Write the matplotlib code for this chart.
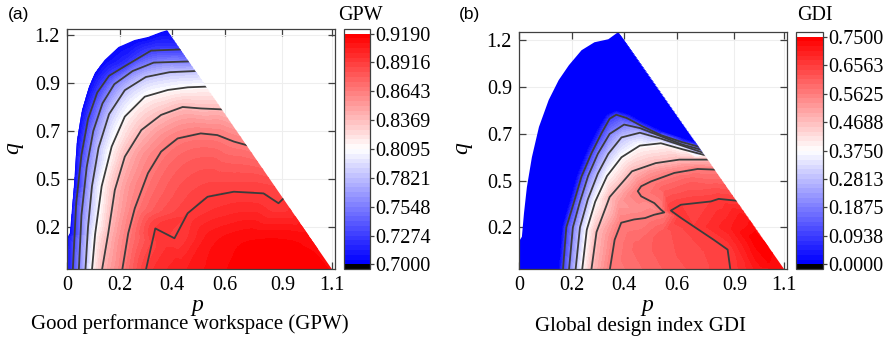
import matplotlib
matplotlib.use("Agg")
import matplotlib.pyplot as plt
import matplotlib.tri as mtri
import numpy as np
from matplotlib.patches import Polygon
from matplotlib.colors import Normalize
from matplotlib.cm import ScalarMappable

plt.rcParams['font.family'] = 'Liberation Serif'

# ---------------- shared axis ticks ----------------
x_tick_pos = [0.0, 0.2, 0.4, 0.6, 0.82, 1.01]
x_tick_labels = ['0', '0.2', '0.4', '0.6', '0.9', '1.1']
y_tick_pos = [0.2, 0.4, 0.6, 0.8, 1.0]
y_tick_labels = ['0.2', '0.5', '0.7', '0.9', '1.2']

# ---------------- (a) Good performance workspace ----------------
gpw_ticks = [0.7000, 0.7274, 0.7548, 0.7821, 0.8095, 0.8369, 0.8643, 0.8916, 0.9190]
gpw_tick_labels = ['0.7000', '0.7274', '0.7548', '0.7821', '0.8095',
                   '0.8369', '0.8643', '0.8916', '0.9190']

# left edge of the workspace and the two ends of the straight edge
edge_a_p = [-0.01, 0.0, 0.011, 0.026, 0.038, 0.057, 0.083, 0.106, 0.143, 0.196, 0.257, 0.309, 0.358]
edge_a_q = [0.02, 0.15, 0.175, 0.367, 0.5625, 0.6875, 0.783, 0.842, 0.896, 0.95, 0.979, 0.992, 1.0125]
apex_a = (0.381, 1.02)
corner_a = (1.011, 0.02)
edge_a_val = 0.703

# contour lines (p, q) for each GPW level
a1_p = [0.022, 0.035, 0.055, 0.08, 0.115, 0.16, 0.22, 0.32, 0.435]
a1_q = [0.02, 0.3, 0.5, 0.65, 0.76, 0.83, 0.87, 0.935, 0.94]
a2_p = [0.045, 0.055, 0.075, 0.10, 0.135, 0.18, 0.25, 0.33, 0.466]
a2_q = [0.02, 0.25, 0.45, 0.6, 0.715, 0.795, 0.85, 0.885, 0.89]
a3_p = [0.07, 0.08, 0.095, 0.12, 0.16, 0.22, 0.30, 0.39, 0.491]
a3_q = [0.02, 0.2, 0.37, 0.53, 0.67, 0.77, 0.825, 0.845, 0.85]
a4_p = [0.095, 0.107, 0.132, 0.17, 0.22, 0.296, 0.384, 0.46, 0.532]
a4_q = [0.02, 0.17, 0.37, 0.535, 0.66, 0.743, 0.771, 0.782, 0.785]
a5_p = [0.133, 0.157, 0.182, 0.22, 0.283, 0.358, 0.44, 0.51, 0.592]
a5_q = [0.02, 0.174, 0.354, 0.493, 0.604, 0.667, 0.70, 0.694, 0.69]
a6_p = [0.21, 0.233, 0.258, 0.308, 0.358, 0.421, 0.509, 0.572, 0.635, 0.687]
a6_q = [0.02, 0.174, 0.278, 0.424, 0.514, 0.569, 0.59, 0.583, 0.556, 0.54]
a7_p = [0.30, 0.336, 0.409, 0.459, 0.535, 0.635, 0.748, 0.805, 0.825]
a7_q = [0.02, 0.194, 0.153, 0.257, 0.326, 0.347, 0.34, 0.299, 0.32]

# a few readings inside the high region
a_in_p = [0.45, 0.65, 0.85, 0.55, 0.70, 0.85, 0.92, 0.60, 0.72, 0.38]
a_in_q = [0.02, 0.02, 0.02, 0.15, 0.15, 0.15, 0.15, 0.28, 0.30, 0.10]
a_in_v = [0.905, 0.916, 0.917, 0.908, 0.914, 0.914, 0.912, 0.897, 0.896, 0.897]

# ---------------- (b) Global design index ----------------
gdi_ticks = [0.0, 0.0938, 0.1875, 0.2813, 0.3750, 0.4688, 0.5625, 0.6563, 0.7500]
gdi_tick_labels = ['0.0000', '0.0938', '0.1875', '0.2813', '0.3750',
                   '0.4688', '0.5625', '0.6563', '0.7500']

edge_b_p = [-0.01, 0.0, 0.011, 0.019, 0.030, 0.049, 0.076, 0.113, 0.151, 0.19, 0.238, 0.287, 0.34]
edge_b_q = [0.015, 0.14, 0.16, 0.261, 0.372, 0.50, 0.63, 0.745, 0.83, 0.894, 0.958, 0.992, 1.005]
apex_b = (0.378, 1.036)
corner_b = (1.013, 0.015)
edge_b_val = 0.005

b1_p = [0.167, 0.18, 0.207, 0.238, 0.276, 0.314, 0.345, 0.37, 0.41, 0.465, 0.54, 0.62, 0.685]
b1_q = [0.015, 0.2, 0.3, 0.418, 0.518, 0.603, 0.665, 0.682, 0.668, 0.635, 0.595, 0.565, 0.545]
b2_p = [0.19, 0.205, 0.232, 0.263, 0.30, 0.345, 0.40, 0.46, 0.54, 0.62, 0.692]
b2_q = [0.015, 0.2, 0.31, 0.42, 0.515, 0.60, 0.64, 0.625, 0.59, 0.555, 0.533]
b3_p = [0.215, 0.232, 0.262, 0.30, 0.34, 0.39, 0.46, 0.54, 0.62, 0.70]
b3_q = [0.015, 0.2, 0.32, 0.43, 0.515, 0.585, 0.605, 0.58, 0.55, 0.52]
b4_p = [0.24, 0.258, 0.29, 0.335, 0.39, 0.46, 0.54, 0.62, 0.708]
b4_q = [0.015, 0.19, 0.31, 0.42, 0.50, 0.55, 0.56, 0.535, 0.509]
b5_p = [0.275, 0.295, 0.345, 0.43, 0.52, 0.61, 0.668, 0.72]
b5_q = [0.015, 0.18, 0.33, 0.44, 0.475, 0.49, 0.49, 0.49]
b6_p = [0.345, 0.364, 0.389, 0.438, 0.48, 0.514, 0.553, 0.54, 0.515, 0.465, 0.452,
        0.465, 0.503, 0.591, 0.68, 0.75]
b6_q = [0.015, 0.147, 0.22, 0.234, 0.24, 0.254, 0.264, 0.276, 0.304, 0.333, 0.355,
        0.376, 0.397, 0.433, 0.45, 0.447]
b7_p = [0.83, 0.76, 0.73, 0.616, 0.578, 0.616, 0.665, 0.741, 0.794, 0.805]
b7_q = [0.314, 0.322, 0.311, 0.297, 0.272, 0.241, 0.204, 0.147, 0.105, 0.015]

# edge of the flat blue zone, just outside the first contour
b_cliff_p = [0.152, 0.165, 0.192, 0.222, 0.26, 0.298, 0.332, 0.37, 0.415, 0.47, 0.545, 0.625, 0.676]
b_cliff_q = [0.015, 0.2, 0.305, 0.425, 0.53, 0.615, 0.68, 0.698, 0.684, 0.65, 0.61, 0.58, 0.562]
b_cliff_v = 0.01

# other readings (blue zone, straight edge, lobes)
b_in_p = [0.08, 0.10, 0.20, 0.30, 0.06, 0.12, 0.25, 0.45, 0.463, 0.557, 0.638,
          0.42, 0.45, 0.38, 0.55, 0.65, 0.72, 0.65, 0.75, 0.50, 0.62,
          0.45, 0.55, 0.60, 0.70, 0.50, 0.70, 0.62,
          0.90, 0.85, 0.95, 0.80, 0.90, 0.895, 0.964, 0.79, 0.52, 0.49]
b_in_q = [0.30, 0.60, 0.80, 0.92, 0.10, 0.45, 0.70, 0.80, 0.90, 0.75, 0.62,
          0.285, 0.28, 0.30, 0.37, 0.40, 0.37, 0.33, 0.36, 0.44, 0.465,
          0.12, 0.18, 0.08, 0.10, 0.015, 0.015, 0.20,
          0.15, 0.25, 0.05, 0.20, 0.015, 0.21, 0.10, 0.38, 0.275, 0.30]
b_in_v = [0.005, 0.005, 0.005, 0.005, 0.005, 0.005, 0.005, 0.005, 0.005, 0.005, 0.005,
          0.53, 0.535, 0.52, 0.60, 0.605, 0.62, 0.64, 0.63, 0.52, 0.52,
          0.60, 0.615, 0.625, 0.64, 0.60, 0.635, 0.64,
          0.745, 0.71, 0.735, 0.70, 0.705, 0.725, 0.735, 0.61, 0.54, 0.535]


def collect(lines, levels, extra_p, extra_q, extra_v):
    # put every reading into one set of scattered samples
    P, Q, Z = [], [], []
    for (lp, lq), lev in zip(lines, levels):
        P += lp
        Q += lq
        Z += [lev] * len(lp)
    P += extra_p
    Q += extra_q
    Z += extra_v
    return np.array(P), np.array(Q), np.array(Z)


def draw_panel(ax, cax, lines, ticks, tick_labels, P, Q, Z, clip_xy, ylim, smooth):
    vmin, vmax = ticks[0], ticks[-1]
    cmap = plt.get_cmap('bwr').resampled(48).with_extremes(under='black', over='white')
    norm = Normalize(vmin, vmax)

    tri = mtri.Triangulation(P, Q)
    if smooth:
        interp = mtri.CubicTriInterpolator(tri, Z, kind='geom')
        tri, Z = mtri.UniformTriRefiner(tri).refine_field(Z, triinterpolator=interp, subdiv=3)
        Z = np.clip(Z, vmin + 1e-4, vmax - 1e-4)

    poly = Polygon(clip_xy, closed=True, transform=ax.transData, facecolor='none', edgecolor='none')
    ax.add_patch(poly)
    cf = ax.tricontourf(tri, Z, levels=np.linspace(vmin, vmax, 49), cmap=cmap, norm=norm, zorder=2)
    cf.set_clip_path(poly)

    # contour lines as read
    for lp, lq in lines:
        ln, = ax.plot(lp, lq, color='#3c3c3c', lw=1.3, zorder=3, solid_joinstyle='round')
        ln.set_clip_path(poly)

    ax.set_xlim(0, 1.02)
    ax.set_ylim(*ylim)
    ax.set_xticks(x_tick_pos, x_tick_labels)
    ax.set_yticks(y_tick_pos, y_tick_labels)
    ax.tick_params(direction='in', length=5, width=0.9, color='#404040', labelsize=14.5,
                   top=True, right=True, pad=5)
    ax.grid(color='#eeeeee', linewidth=0.8, zorder=0)
    ax.set_axisbelow(True)
    for s in ax.spines.values():
        s.set_color('#404040')
        s.set_linewidth(0.9)

    cb = plt.colorbar(ScalarMappable(norm=norm, cmap=cmap), cax=cax, extend='both',
                      extendrect=True, extendfrac=0.02)
    cb.set_ticks(ticks, labels=tick_labels)
    cb.ax.tick_params(direction='out', length=3, width=0.9, color='#404040', labelsize=14.5, pad=0.5)
    cb.outline.set_edgecolor('#404040')
    cb.outline.set_linewidth(0.9)


W, H = 887, 344
fig = plt.figure(figsize=(W / 100, H / 100), dpi=100)


def rect(x0, x1, y0, y1):
    return [x0 / W, 1 - y1 / H, (x1 - x0) / W, (y1 - y0) / H]


ax_a = fig.add_axes(rect(67, 335, 29, 269))
cax_a = fig.add_axes(rect(344, 370, 29, 269))
ax_b = fig.add_axes(rect(519, 787, 32, 269))
cax_b = fig.add_axes(rect(796, 823, 32, 269))

# panel (a)
lines_a = [(a1_p, a1_q), (a2_p, a2_q), (a3_p, a3_q), (a4_p, a4_q),
           (a5_p, a5_q), (a6_p, a6_q), (a7_p, a7_q)]
Pa, Qa, Za = collect(lines_a, gpw_ticks[1:-1],
                     edge_a_p + [apex_a[0], corner_a[0]] + a_in_p,
                     edge_a_q + [apex_a[1], corner_a[1]] + a_in_q,
                     [edge_a_val] * (len(edge_a_p) + 1) + [0.914] + a_in_v)
clip_a = list(zip(edge_a_p, edge_a_q)) + [apex_a, corner_a, (corner_a[0], -0.2), (-0.2, -0.2)]
draw_panel(ax_a, cax_a, lines_a, gpw_ticks, gpw_tick_labels, Pa, Qa, Za, clip_a,
           (0.025, 1.025), smooth=True)

# panel (b)
lines_b = [(b1_p, b1_q), (b2_p, b2_q), (b3_p, b3_q), (b4_p, b4_q),
           (b5_p, b5_q), (b6_p, b6_q), (b7_p, b7_q)]
Pb, Qb, Zb = collect(lines_b, gdi_ticks[1:-1],
                     edge_b_p + [apex_b[0], corner_b[0]] + b_cliff_p + b_in_p,
                     edge_b_q + [apex_b[1], corner_b[1]] + b_cliff_q + b_in_q,
                     [edge_b_val] * (len(edge_b_p) + 1) + [0.72] + [b_cliff_v] * len(b_cliff_p) + b_in_v)
clip_b = list(zip(edge_b_p, edge_b_q)) + [apex_b, corner_b, (corner_b[0], -0.2), (-0.2, -0.2)]
draw_panel(ax_b, cax_b, lines_b, gdi_ticks, gdi_tick_labels, Pb, Qb, Zb, clip_b,
           (0.022, 1.036), smooth=False)

# labels and captions
def put(x, y, s, **kw):
    fig.text(x / W, 1 - y / H, s, ha='center', va='center', **kw)

put(19, 15, '(a)', family='Liberation Sans', fontsize=12.5)
put(470, 15, '(b)', family='Liberation Sans', fontsize=12.5)
put(360, 15, 'GPW', fontsize=14.5)
put(815, 15, 'GDI', fontsize=14.5)
put(197, 305, 'p', fontsize=17, style='italic')
put(647, 305, 'p', fontsize=17, style='italic')
put(13, 148, 'q', fontsize=17, style='italic', rotation=90)
put(462, 148, 'q', fontsize=17, style='italic', rotation=90)
put(190, 324, 'Good performance workspace (GPW)', fontsize=15)
put(641, 326, 'Global design index GDI', fontsize=15)

fig.savefig('out.png', dpi=100)
